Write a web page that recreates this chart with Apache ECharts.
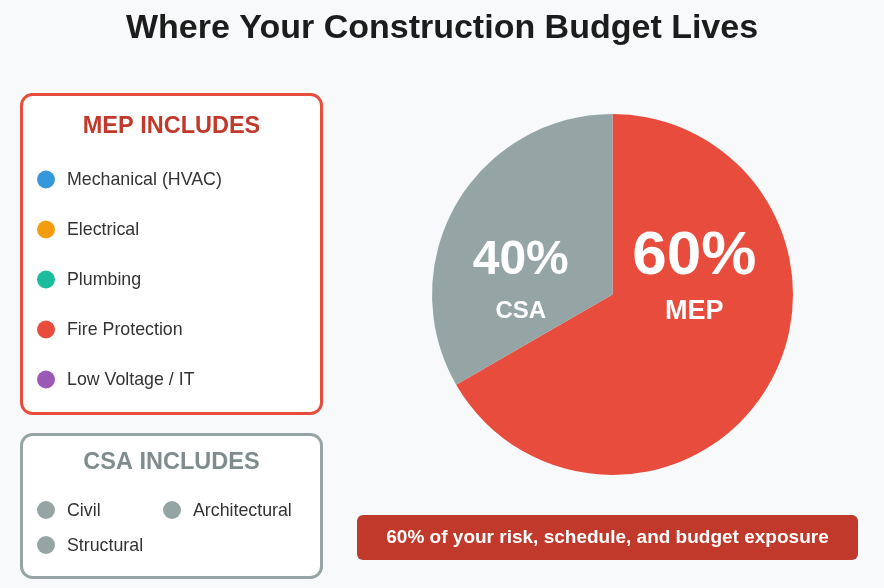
<!DOCTYPE html>
<html>
<head>
<meta charset="utf-8">
<script src="https://cdn.jsdelivr.net/npm/echarts@6/dist/echarts.min.js"></script>
<style>
html,body{margin:0;padding:0;background:#f8f9fa;}
#chart{width:884px;height:588px;}
</style>
</head>
<body>
<div id="chart"></div>
<script>
var titleText = 'Where Your Construction Budget Lives';
var sliceNames = ['MEP', 'CSA'];
var sliceValues = [60, 30];          // slice sizes as drawn (240° / 120°)
var sliceLabels = ['60%', '40%'];    // percentages printed on the slices
var sliceColors = ['#e74c3c', '#95a5a6'];
var mepTitle = 'MEP INCLUDES';
var mepItems = ['Mechanical (HVAC)', 'Electrical', 'Plumbing', 'Fire Protection', 'Low Voltage / IT'];
var mepColors = ['#3498db', '#f39c12', '#1abc9c', '#e74c3c', '#9b59b6'];
var csaTitle = 'CSA INCLUDES';
var csaItems = ['Civil', 'Architectural', 'Structural'];
var bannerText = '60% of your risk, schedule, and budget exposure';

var FF = '"Liberation Sans", Arial, Helvetica, sans-serif';
var chart = echarts.init(document.getElementById('chart'));

var g = [];
// title
g.push({ type: 'text', style: { text: titleText, x: 442, y: 29, textAlign: 'center', textVerticalAlign: 'middle', font: 'bold 34px ' + FF, fill: '#1c1c1c' } });
// MEP box
g.push({ type: 'rect', shape: { x: 21.5, y: 94.5, width: 300, height: 319, r: 11 }, style: { fill: '#ffffff', stroke: '#e74c3c', lineWidth: 3 } });
g.push({ type: 'text', style: { text: mepTitle, x: 171.5, y: 126.5, textAlign: 'center', textVerticalAlign: 'middle', font: 'bold 23.5px ' + FF, fill: '#c0392b' } });
mepItems.forEach(function (t, i) {
  var y = 179.5 + i * 50;
  g.push({ type: 'circle', shape: { cx: 46, cy: y, r: 9 }, style: { fill: mepColors[i] } });
  g.push({ type: 'text', style: { text: t, x: 67, y: y + 1, textAlign: 'left', textVerticalAlign: 'middle', font: '17.8px ' + FF, fill: '#333333' } });
});
// CSA box
g.push({ type: 'rect', shape: { x: 21.5, y: 434.5, width: 300, height: 143, r: 11 }, style: { fill: '#ffffff', stroke: '#95a5a6', lineWidth: 3 } });
g.push({ type: 'text', style: { text: csaTitle, x: 171.5, y: 462.5, textAlign: 'center', textVerticalAlign: 'middle', font: 'bold 23.5px ' + FF, fill: '#7f8c8d' } });
csaItems.forEach(function (t, i) {
  var col = i % 2, row = Math.floor(i / 2);
  var x = 46 + col * 126, y = 510 + row * 35;
  g.push({ type: 'circle', shape: { cx: x, cy: y, r: 9 }, style: { fill: '#95a5a6' } });
  g.push({ type: 'text', style: { text: t, x: x + 21, y: y + 1, textAlign: 'left', textVerticalAlign: 'middle', font: '17.8px ' + FF, fill: '#333333' } });
});
// banner
g.push({ type: 'rect', shape: { x: 357, y: 515, width: 501, height: 45, r: 6 }, style: { fill: '#c0392b' } });
g.push({ type: 'text', style: { text: bannerText, x: 607.5, y: 538, textAlign: 'center', textVerticalAlign: 'middle', font: 'bold 19px ' + FF, fill: '#ffffff' } });

var labelCfg = [
  { offset: [1, -64], big: 62, small: 27, lh1: 68, lh2: 40 },
  { offset: [-11, 33], big: 48, small: 24, lh1: 60, lh2: 41 }
];

var data = sliceNames.map(function (n, i) {
  var c = labelCfg[i];
  return {
    name: n,
    value: sliceValues[i],
    itemStyle: { color: sliceColors[i] },
    label: {
      offset: c.offset,
      formatter: '{p|' + sliceLabels[i] + '}\n{n|' + n + '}',
      rich: {
        p: { fontSize: c.big, fontWeight: 'bold', color: '#fff', fontFamily: FF, lineHeight: c.lh1, align: 'center' },
        n: { fontSize: c.small, fontWeight: 'bold', color: '#fff', fontFamily: FF, lineHeight: c.lh2, align: 'center' }
      }
    }
  };
});

chart.setOption({
  backgroundColor: '#f8f9fa',
  animation: false,
  graphic: g,
  series: [{
    type: 'pie',
    center: [612.5, 294.5],
    radius: [0, 180.5],
    startAngle: 90,
    clockwise: true,
    silent: true,
    itemStyle: { borderWidth: 0 },
    label: { show: true, position: 'inside', rotate: 0 },
    labelLine: { show: false },
    data: data
  }]
});
</script>
</body>
</html>
